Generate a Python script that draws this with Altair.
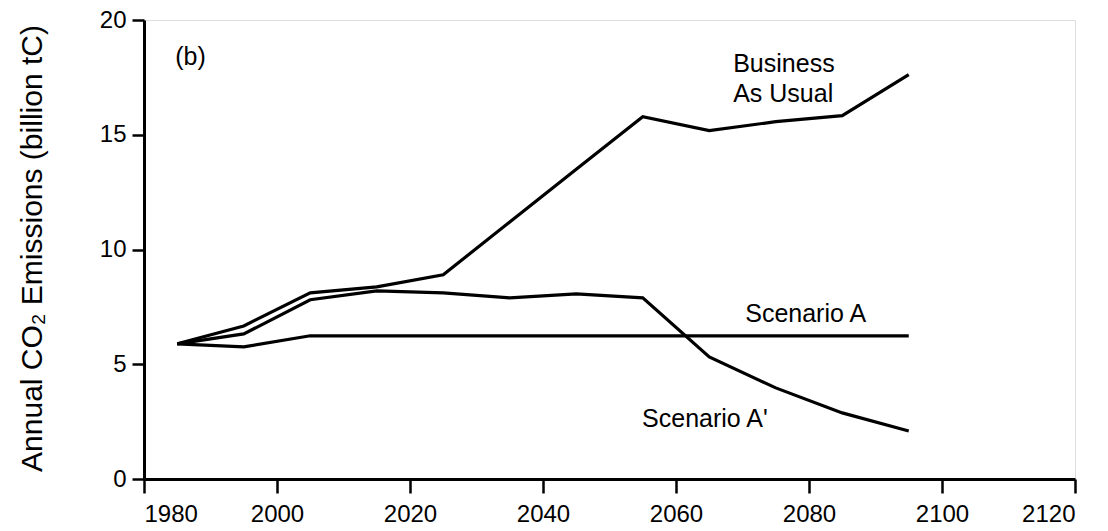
import altair as alt
import pandas as pd

years = [1985, 1995, 2005, 2015, 2025, 2035, 2045, 2055, 2065, 2075, 2085, 2095]
bau = [5.89, 6.67, 8.11, 8.37, 8.9, 11.2, 13.5, 15.79, 15.18, 15.57, 15.83, 17.62]
scen_a_prime = [5.89, 6.32, 7.81, 8.2, 8.11, 7.89, 8.07, 7.89, 5.32, 3.97, 2.88, 2.09]
scen_a = [5.89, 5.76, 6.24, 6.24, 6.24, 6.24, 6.24, 6.24, 6.24, 6.24, 6.24, 6.24]

x_ticks = [1980, 2000, 2020, 2040, 2060, 2080, 2100, 2120]
y_ticks = [0, 5, 10, 15, 20]

label_text = ["Business", "As Usual", "Scenario A", "Scenario A'", "(b)"]
label_year = [2068.6, 2068.6, 2079.5, 2054.9, 1984.7]
label_value = [17.75, 16.44, 6.85, 2.27, 18.05]
label_align = ["left", "left", "center", "left", "left"]

rows = []
for name, vals in [("Business As Usual", bau), ("Scenario A'", scen_a_prime), ("Scenario A", scen_a)]:
    for yr, v in zip(years, vals):
        rows.append({"series": name, "year": yr, "value": v})
df = pd.DataFrame(rows)

labels = pd.DataFrame({"text": label_text, "year": label_year, "value": label_value, "align": label_align})

FONT = "Liberation Sans"

xscale = alt.Scale(domain=[1980, 2120], nice=False, zero=False)
yscale = alt.Scale(domain=[0, 20], nice=False, zero=True)

lines = alt.Chart(df).mark_line(color="black", strokeWidth=3.2, strokeJoin="miter").encode(
    x=alt.X("year:Q", scale=xscale,
            axis=alt.Axis(values=x_ticks, title=None, format="d", grid=False,
                          tickSize=14, tickWidth=2.5, tickColor="black",
                          domainColor="black", domainWidth=3,
                          labelFont=FONT, labelFontSize=24, labelColor="black",
                          labelPadding=9)),
    y=alt.Y("value:Q", scale=yscale,
            axis=alt.Axis(values=y_ticks, title="Annual CO₂ Emissions (billion tC)", grid=False,
                          tickSize=12, tickWidth=2.5, tickColor="black",
                          domainColor="black", domainWidth=3,
                          labelFont=FONT, labelFontSize=24, labelColor="black",
                          labelPadding=6,
                          titleFont=FONT, titleFontSize=30, titleFontWeight="normal",
                          titleColor="black", titleX=-112, titleY=228,
                          titleAngle=270, titleBaseline="middle", titleAlign="center")),
    detail="series:N",
)

def text_layer(sub, align):
    return alt.Chart(sub).mark_text(font=FONT, fontSize=25, color="black",
                                    align=align, baseline="alphabetic").encode(
        x=alt.X("year:Q", scale=xscale),
        y=alt.Y("value:Q", scale=yscale),
        text="text:N",
    )

left_labels = text_layer(labels[labels["align"] == "left"], "left")
center_labels = text_layer(labels[labels["align"] == "center"], "center")

chart = alt.layer(lines, left_labels, center_labels).properties(
    width=931, height=459,
    autosize=alt.AutoSizeParams(type="none"),
    padding={"left": 136, "top": 12, "right": 25, "bottom": 52},
).configure_view(stroke="black", strokeWidth=3).configure(background="white")

chart.save("out.html", embed_options={"renderer": "svg", "actions": False})
